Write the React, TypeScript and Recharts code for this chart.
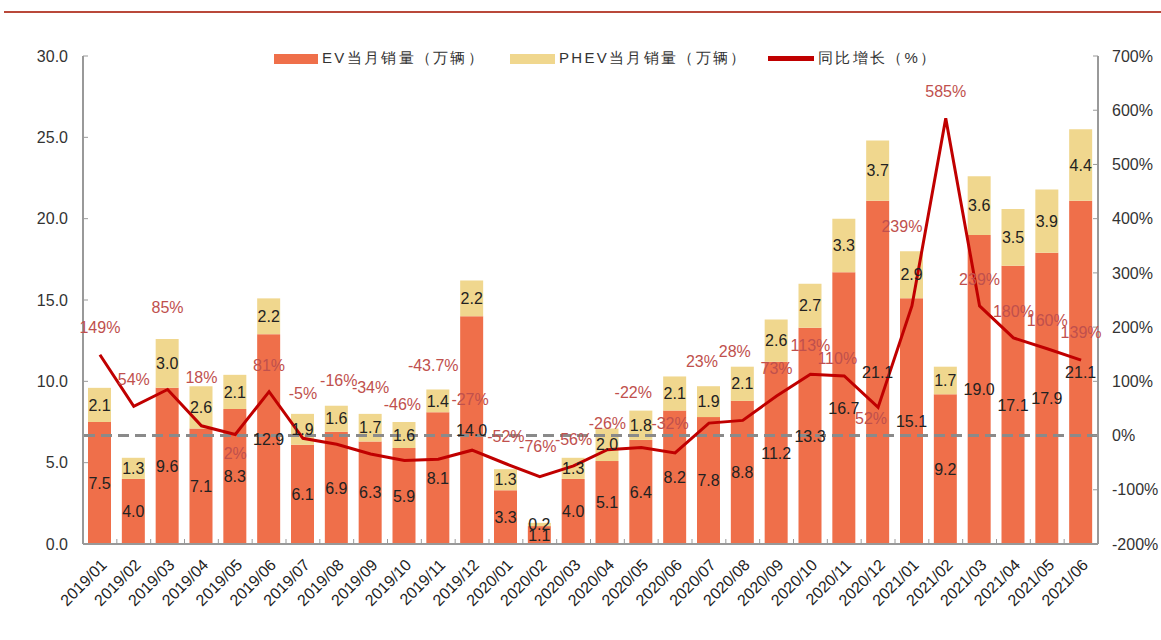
import React from 'react';
import { ComposedChart, Bar, Line, XAxis, YAxis, ReferenceLine, LabelList } from 'recharts';

const months = [
  '2019/01', '2019/02', '2019/03', '2019/04', '2019/05', '2019/06', '2019/07', '2019/08', '2019/09', '2019/10',
  '2019/11', '2019/12', '2020/01', '2020/02', '2020/03', '2020/04', '2020/05', '2020/06', '2020/07', '2020/08',
  '2020/09', '2020/10', '2020/11', '2020/12', '2021/01', '2021/02', '2021/03', '2021/04', '2021/05', '2021/06',
];
const evSales = [7.5, 4.0, 9.6, 7.1, 8.3, 12.9, 6.1, 6.9, 6.3, 5.9, 8.1, 14.0, 3.3, 1.1, 4.0, 5.1, 6.4, 8.2, 7.8, 8.8, 11.2, 13.3, 16.7, 21.1, 15.1, 9.2, 19.0, 17.1, 17.9, 21.1];
const phevSales = [2.1, 1.3, 3.0, 2.6, 2.1, 2.2, 1.9, 1.6, 1.7, 1.6, 1.4, 2.2, 1.3, 0.2, 1.3, 2.0, 1.8, 2.1, 1.9, 2.1, 2.6, 2.7, 3.3, 3.7, 2.9, 1.7, 3.6, 3.5, 3.9, 4.4];
const yoyGrowth = [149, 54, 85, 18, 2, 81, -5, -16, -34, -46, -43.7, -27, -52, -76, -56, -26, -22, -32, 23, 28, 73, 113, 110, 52, 239, 585, 239, 180, 160, 139];

const leftTicks = [0, 5, 10, 15, 20, 25, 30];
const rightTicks = [-200, -100, 0, 100, 200, 300, 400, 500, 600, 700];

const data = months.map((m, i) => ({ month: m, ev: evSales[i], phev: phevSales[i], yoy: yoyGrowth[i] }));

// hand-placed label nudges for the growth labels (like the original)
const yoyLabelNudge: [number, number][] = [
  [0, -27], [0, -27], [0, -82], [0, -48], [0, 19], [0, -26], [0, -45], [2, -64], [0, -67], [-2, -56],
  [-5, -94], [-2, -51], [0, -27], [-2, -30], [0, -27], [0, -26], [-8, -55], [-5, -30], [-7, -62], [-8, -69],
  [0, -28], [0, -29], [-7, -18], [-7, 11], [-10, -80], [0, -27], [0, -27], [0, -27], [0, -28], [0, -28],
];

const EV_COLOR = '#ef6f4a';
const PHEV_COLOR = '#f0d78e';
const LINE_COLOR = '#c00000';
const FONT = '"Liberation Sans", Arial, sans-serif';

const MonthTick = (props: any) => {
  const { x, y, payload } = props;
  const half = payload && payload.offset ? payload.offset : 17;
  const tx = x + 8;
  const ty = y + 22;
  return (
    <g>
      <line x1={x - half} x2={x - half} y1={y} y2={y - 5} stroke="#999" />
      <text x={tx} y={ty} textAnchor="end" fontSize={16} fill="#222" fontFamily={FONT} transform={`rotate(-45, ${tx}, ${ty})`}>
        {payload.value}
      </text>
    </g>
  );
};

const YoyLabel = (props: any) => {
  const { x, y, value, index } = props;
  const [dx, dy] = yoyLabelNudge[index] || [0, -27];
  return (
    <text x={x + dx} y={y + dy} dy="0.35em" textAnchor="middle" fontSize={16} fill="#c0504d" fontFamily={FONT}>
      {`${value}%`}
    </text>
  );
};

const legendText: React.CSSProperties = { fontSize: 15, letterSpacing: 2.3, color: '#333', marginLeft: 4 };

export default function App() {
  return (
    <div style={{ position: 'absolute', left: 0, top: 0, width: 1161, height: 640, background: '#fff', fontFamily: FONT }}>
      <div style={{ position: 'absolute', left: 4, right: 0, top: 11, height: 2, background: '#b9483a' }} />
      <div style={{ position: 'absolute', left: 274, top: 49, display: 'flex', alignItems: 'center' }}>
        <div style={{ width: 44, height: 10, background: EV_COLOR }} />
        <span style={legendText}>EV当月销量（万辆）</span>
      </div>
      <div style={{ position: 'absolute', left: 510, top: 49, display: 'flex', alignItems: 'center' }}>
        <div style={{ width: 45, height: 10, background: PHEV_COLOR }} />
        <span style={legendText}>PHEV当月销量（万辆）</span>
      </div>
      <div style={{ position: 'absolute', left: 768, top: 49, display: 'flex', alignItems: 'center' }}>
        <div style={{ width: 46, height: 5, background: LINE_COLOR }} />
        <span style={legendText}>同比增长（%）</span>
      </div>
      <ComposedChart width={1161} height={640} data={data} margin={{ top: 56, right: 0, bottom: 0, left: 0 }}>
        <XAxis
          dataKey="month"
          interval={0}
          height={96}
          tick={<MonthTick />}
          tickLine={false}
          tickSize={0}
          tickMargin={0}
          axisLine={{ stroke: '#999', strokeWidth: 2 }}
        />
        <YAxis
          yAxisId="left"
          width={83}
          domain={[0, 30]}
          ticks={leftTicks}
          tickFormatter={(v: number) => v.toFixed(1)}
          tick={{ fontSize: 16, fill: '#333', fontFamily: FONT }}
          tickSize={-5}
          tickMargin={20}
          axisLine={{ stroke: '#999', strokeWidth: 2 }}
          tickLine={{ stroke: '#999' }}
        />
        <YAxis
          yAxisId="right"
          orientation="right"
          width={63}
          domain={[-200, 700]}
          ticks={rightTicks}
          tickFormatter={(v: number) => `${v}%`}
          tick={{ fontSize: 16, fill: '#333', fontFamily: FONT }}
          tickSize={-5}
          tickMargin={19}
          axisLine={{ stroke: '#999', strokeWidth: 2 }}
          tickLine={{ stroke: '#999' }}
        />
        <Bar yAxisId="left" dataKey="ev" stackId="s" fill={EV_COLOR} barSize={23} isAnimationActive={false}>
          <LabelList dataKey="ev" position="center" fontSize={16} fill="#222" fontFamily={FONT} formatter={(v: any) => Number(v).toFixed(1)} />
        </Bar>
        <Bar yAxisId="left" dataKey="phev" stackId="s" fill={PHEV_COLOR} barSize={23} isAnimationActive={false}>
          <LabelList dataKey="phev" position="center" fontSize={16} fill="#222" fontFamily={FONT} formatter={(v: any) => Number(v).toFixed(1)} />
        </Bar>
        <ReferenceLine yAxisId="right" y={0} stroke="#8a8a8a" strokeWidth={3} strokeDasharray="11 6" />
        <Line yAxisId="right" type="linear" dataKey="yoy" stroke={LINE_COLOR} strokeWidth={3} dot={false} isAnimationActive={false}>
          <LabelList dataKey="yoy" content={<YoyLabel />} />
        </Line>
      </ComposedChart>
    </div>
  );
}
